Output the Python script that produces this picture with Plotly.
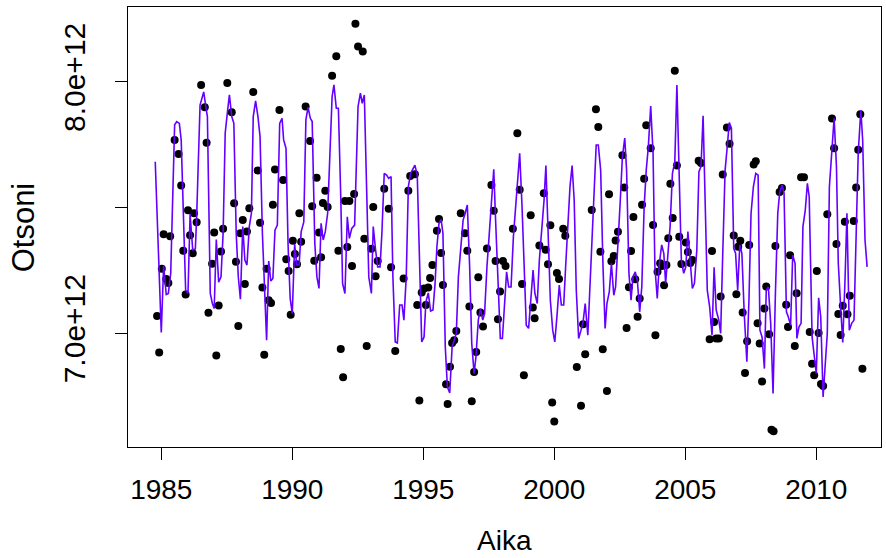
import plotly.graph_objects as go

obs_year = [1984.84, 1984.92, 1985.02, 1985.09, 1985.19, 1985.27, 1985.34, 1985.51, 1985.66, 1985.76,
            1985.84, 1985.93, 1986.02, 1986.10, 1986.20, 1986.25, 1986.35, 1986.52, 1986.66, 1986.73,
            1986.80, 1986.94, 1987.02, 1987.10, 1987.19, 1987.28, 1987.36, 1987.52, 1987.69, 1987.78,
            1987.85, 1987.94, 1988.02, 1988.11, 1988.19, 1988.27, 1988.36, 1988.51, 1988.68, 1988.77,
            1988.86, 1988.93, 1989.02, 1989.10, 1989.19, 1989.26, 1989.34, 1989.51, 1989.65, 1989.77,
            1989.86, 1989.94, 1990.02, 1990.10, 1990.18, 1990.27, 1990.34, 1990.51, 1990.68, 1990.76,
            1990.84, 1990.93, 1991.02, 1991.10, 1991.17, 1991.26, 1991.35, 1991.52, 1991.68, 1991.76,
            1991.85, 1991.94, 1992.01, 1992.10, 1992.18, 1992.28, 1992.36, 1992.41, 1992.51, 1992.69,
            1992.75, 1992.84, 1993.02, 1993.09, 1993.18, 1993.26, 1993.51, 1993.68, 1993.77, 1993.93,
            1994.25, 1994.43, 1994.50, 1994.68, 1994.77, 1994.85, 1994.94, 1995.03, 1995.10, 1995.19,
            1995.26, 1995.35, 1995.52, 1995.60, 1995.68, 1995.75, 1995.87, 1995.93, 1996.02, 1996.10,
            1996.18, 1996.26, 1996.43, 1996.59, 1996.68, 1996.76, 1996.85, 1996.94, 1997.02, 1997.10,
            1997.18, 1997.28, 1997.43, 1997.60, 1997.69, 1997.76, 1997.85, 1997.93, 1998.04, 1998.14,
            1998.42, 1998.59, 1998.68, 1998.77, 1998.84, 1999.10, 1999.18, 1999.25, 1999.43, 1999.60,
            1999.67, 1999.76, 1999.85, 1999.92, 2000.00, 2000.10, 2000.18, 2000.34, 2000.42, 2000.86,
            2001.02, 2001.10, 2001.18, 2001.43, 2001.59, 2001.68, 2001.76, 2001.85, 2002.01, 2002.09,
            2002.18, 2002.27, 2002.34, 2002.43, 2002.60, 2002.67, 2002.76, 2002.85, 2002.93, 2003.02,
            2003.09, 2003.18, 2003.26, 2003.35, 2003.43, 2003.51, 2003.68, 2003.77, 2003.86, 2003.94,
            2004.04, 2004.11, 2004.19, 2004.28, 2004.35, 2004.43, 2004.52, 2004.60, 2004.68, 2004.77,
            2004.85, 2005.02, 2005.10, 2005.19, 2005.27, 2005.51, 2005.60, 2005.93, 2006.02, 2006.10,
            2006.18, 2006.28, 2006.35, 2006.43, 2006.59, 2006.69, 2006.85, 2006.95, 2007.02, 2007.10,
            2007.19, 2007.28, 2007.36, 2007.44, 2007.61, 2007.69, 2007.76, 2007.84, 2007.93, 2008.02,
            2008.09, 2008.20, 2008.29, 2008.37, 2008.44, 2008.60, 2008.69, 2008.85, 2008.92, 2009.00,
            2009.18, 2009.25, 2009.42, 2009.53, 2009.75, 2009.84, 2009.92, 2010.02, 2010.09, 2010.18,
            2010.26, 2010.42, 2010.60, 2010.68, 2010.77, 2010.84, 2010.93, 2011.01, 2011.09, 2011.19,
            2011.28, 2011.43, 2011.52, 2011.60, 2011.68, 2011.76]

obs_value_e12 = [7.068, 6.923, 7.256, 7.394, 7.216, 7.200, 7.386, 7.769, 7.713, 7.588,
                 7.328, 7.154, 7.489, 7.390, 7.318, 7.477, 7.441, 7.988, 7.899, 7.758,
                 7.081, 7.276, 7.401, 6.911, 7.110, 7.325, 7.416, 7.996, 7.879, 7.517,
                 7.284, 7.029, 7.398, 7.450, 7.196, 7.405, 7.497, 7.960, 7.647, 7.439,
                 7.182, 6.914, 7.256, 7.131, 7.120, 7.511, 7.651, 7.888, 7.610, 7.294,
                 7.247, 7.073, 7.368, 7.315, 7.274, 7.477, 7.364, 7.902, 7.765, 7.505,
                 7.288, 7.618, 7.401, 7.302, 7.518, 7.567, 7.502, 8.024, 8.102, 7.328,
                 6.937, 6.825, 7.526, 7.343, 7.526, 7.267, 7.554, 8.231, 8.141, 8.121,
                 7.376, 6.949, 7.336, 7.502, 7.227, 7.287, 7.575, 7.495, 7.262, 6.929,
                 7.218, 7.567, 7.625, 7.632, 7.112, 6.732, 7.162, 7.178, 7.112, 7.182,
                 7.220, 7.271, 7.408, 7.454, 7.319, 7.192, 6.797, 6.718, 6.866, 6.961,
                 6.972, 7.009, 7.477, 7.398, 7.328, 7.106, 6.729, 6.845, 6.925, 7.223,
                 7.082, 7.027, 7.337, 7.590, 7.487, 7.287, 7.055, 7.166, 7.287, 7.267,
                 7.416, 7.796, 7.571, 7.196, 6.833, 7.469, 7.102, 7.059, 7.349, 7.557,
                 7.332, 7.274, 7.429, 6.724, 6.648, 7.239, 7.216, 7.416, 7.388, 6.865,
                 6.711, 7.035, 6.916, 7.490, 7.891, 7.820, 7.324, 6.936, 6.770, 7.553,
                 7.286, 7.307, 7.369, 7.404, 7.708, 7.580, 7.021, 7.183, 7.327, 7.462,
                 7.215, 7.065, 7.138, 7.511, 7.615, 7.827, 7.736, 7.430, 6.992, 7.244,
                 7.278, 7.267, 7.191, 7.271, 7.378, 7.595, 7.458, 8.044, 7.667, 7.384,
                 7.275, 7.361, 7.323, 7.279, 7.291, 7.686, 7.677, 6.976, 7.327, 7.044,
                 6.979, 6.979, 7.146, 7.631, 7.818, 7.754, 7.389, 7.155, 7.344, 7.368,
                 7.082, 6.841, 6.968, 7.351, 7.671, 7.684, 7.039, 6.959, 6.808, 7.098,
                 7.186, 6.996, 6.616, 6.610, 7.347, 7.562, 7.578, 7.113, 7.025, 7.310,
                 6.949, 7.159, 7.620, 7.620, 7.005, 6.878, 6.833, 7.247, 7.001, 6.798,
                 6.790, 7.473, 7.854, 7.736, 7.355, 7.076, 6.993, 7.109, 7.443, 7.075,
                 7.149, 7.446, 7.580, 7.730, 7.871, 6.858]

# Fitted curve (units of 1e12)
fit_year = [1984.77, 1985.00, 1985.09, 1985.19, 1985.27, 1985.36, 1985.51, 1985.59, 1985.69, 1985.76,
            1985.93, 1986.02, 1986.10, 1986.20, 1986.30, 1986.35, 1986.48, 1986.62, 1986.72, 1986.76,
            1986.87, 1986.95, 1987.02, 1987.10, 1987.19, 1987.28, 1987.36, 1987.44, 1987.52, 1987.60,
            1987.69, 1987.77, 1987.86, 1987.94, 1988.02, 1988.11, 1988.19, 1988.27, 1988.36, 1988.44,
            1988.51, 1988.60, 1988.69, 1988.77, 1988.86, 1989.02, 1989.10, 1989.18, 1989.26, 1989.34,
            1989.43, 1989.52, 1989.61, 1989.67, 1989.76, 1989.84, 1989.92, 1990.00, 1990.09, 1990.17,
            1990.26, 1990.34, 1990.44, 1990.52, 1990.60, 1990.69, 1990.76, 1990.86, 1990.94, 1991.02,
            1991.10, 1991.18, 1991.26, 1991.35, 1991.52, 1991.59, 1991.68, 1991.76, 1991.85, 1991.92,
            1992.01, 1992.10, 1992.18, 1992.27, 1992.38, 1992.45, 1992.51, 1992.60, 1992.67, 1992.75,
            1992.92, 1993.02, 1993.09, 1993.18, 1993.26, 1993.35, 1993.42, 1993.51, 1993.60, 1993.68,
            1993.77, 1993.84, 1993.93, 1994.01, 1994.10, 1994.19, 1994.26, 1994.35, 1994.43, 1994.52,
            1994.68, 1994.77, 1994.85, 1994.94, 1995.03, 1995.10, 1995.19, 1995.28, 1995.37, 1995.45,
            1995.52, 1995.60, 1995.68, 1995.75, 1995.84, 1995.92, 1996.01, 1996.10, 1996.18, 1996.26,
            1996.34, 1996.52, 1996.60, 1996.68, 1996.77, 1996.85, 1996.94, 1997.01, 1997.10, 1997.18,
            1997.27, 1997.34, 1997.43, 1997.52, 1997.60, 1997.69, 1997.76, 1997.85, 1997.94, 1998.02,
            1998.11, 1998.18, 1998.26, 1998.35, 1998.44, 1998.59, 1998.68, 1998.77, 1998.84, 1998.93,
            1999.02, 1999.10, 1999.19, 1999.26, 1999.35, 1999.43, 1999.52, 1999.61, 1999.68, 1999.77,
            1999.85, 1999.94, 2000.02, 2000.10, 2000.19, 2000.27, 2000.36, 2000.44, 2000.52, 2000.60,
            2000.68, 2000.76, 2000.84, 2000.93, 2001.02, 2001.10, 2001.18, 2001.28, 2001.35, 2001.44,
            2001.53, 2001.60, 2001.68, 2001.77, 2001.86, 2001.94, 2002.01, 2002.10, 2002.18, 2002.27,
            2002.34, 2002.43, 2002.52, 2002.60, 2002.69, 2002.76, 2002.85, 2002.93, 2003.00, 2003.09,
            2003.17, 2003.26, 2003.34, 2003.43, 2003.51, 2003.59, 2003.68, 2003.77, 2003.84, 2003.93,
            2004.01, 2004.10, 2004.18, 2004.25, 2004.33, 2004.42, 2004.51, 2004.60, 2004.68, 2004.77,
            2004.85, 2004.94, 2005.02, 2005.10, 2005.18, 2005.27, 2005.35, 2005.44, 2005.52, 2005.60,
            2005.68, 2005.76, 2005.84, 2005.93, 2006.02, 2006.10, 2006.18, 2006.28, 2006.35, 2006.43,
            2006.52, 2006.59, 2006.68, 2006.76, 2006.85, 2006.92, 2007.00, 2007.08, 2007.16, 2007.25,
            2007.35, 2007.43, 2007.51, 2007.60, 2007.69, 2007.78, 2007.85, 2007.93, 2008.02, 2008.09,
            2008.17, 2008.26, 2008.35, 2008.44, 2008.53, 2008.60, 2008.69, 2008.77, 2008.86, 2008.93,
            2009.02, 2009.10, 2009.19, 2009.26, 2009.34, 2009.42, 2009.49, 2009.58, 2009.66, 2009.73,
            2009.84, 2009.92, 2010.00, 2010.09, 2010.17, 2010.26, 2010.35, 2010.42, 2010.50, 2010.59,
            2010.68, 2010.77, 2010.84, 2010.93, 2011.01, 2011.10, 2011.17, 2011.26, 2011.35, 2011.44,
            2011.53, 2011.60, 2011.70, 2011.77, 2011.86, 2011.94]

fit_value_e12 = [7.682, 7.003, 7.268, 7.154, 7.158, 7.238, 7.829, 7.842, 7.835, 7.769,
                 7.171, 7.159, 7.474, 7.331, 7.335, 7.462, 7.908, 7.960, 7.888, 7.862,
                 7.158, 7.118, 7.098, 7.373, 7.203, 7.224, 7.397, 7.796, 7.875, 7.948,
                 7.862, 7.835, 7.397, 7.224, 7.135, 7.424, 7.291, 7.271, 7.424, 7.477,
                 7.862, 7.924, 7.862, 7.782, 7.397, 6.972, 7.287, 7.208, 7.218, 7.410,
                 7.430, 7.835, 7.855, 7.769, 7.736, 7.351, 7.138, 7.078, 7.355, 7.271,
                 7.271, 7.404, 7.443, 7.849, 7.899, 7.855, 7.842, 7.357, 7.224, 7.178,
                 7.437, 7.371, 7.404, 7.477, 7.941, 7.988, 7.895, 7.895, 7.543, 7.198,
                 7.158, 7.463, 7.377, 7.417, 7.430, 7.649, 7.902, 7.955, 7.915, 7.948,
                 7.224, 7.158, 7.424, 7.331, 7.264, 7.264, 7.397, 7.636, 7.629, 7.616,
                 7.623, 7.224, 6.965, 6.961, 7.112, 7.112, 7.052, 7.224, 7.583, 7.636,
                 7.669, 7.629, 7.278, 6.965, 6.985, 7.125, 7.160, 7.088, 7.092, 7.198,
                 7.344, 7.437, 7.453, 7.397, 6.945, 6.786, 6.762, 6.945, 6.972, 6.999,
                 7.224, 7.450, 7.477, 7.510, 7.264, 6.959, 6.839, 6.906, 7.052, 7.098,
                 7.052, 7.078, 7.264, 7.397, 7.530, 7.652, 7.450, 7.198, 6.979, 6.979,
                 7.158, 7.244, 7.184, 7.184, 7.384, 7.610, 7.716, 7.503, 7.264, 7.032,
                 7.019, 7.131, 7.251, 7.158, 7.118, 7.291, 7.397, 7.530, 7.667, 7.344,
                 7.131, 7.012, 6.965, 7.065, 7.191, 7.112, 7.112, 7.278, 7.424, 7.583,
                 7.667, 7.530, 7.171, 6.979, 7.012, 7.045, 7.118, 6.992, 7.158, 7.397,
                 7.596, 7.749, 7.749, 7.649, 7.264, 7.019, 7.118, 7.165, 7.278, 7.151,
                 7.184, 7.344, 7.530, 7.702, 7.776, 7.649, 7.238, 7.131, 7.224, 7.244,
                 7.211, 7.085, 7.184, 7.503, 7.649, 7.742, 7.904, 7.716, 7.264, 7.138,
                 7.278, 7.351, 7.318, 7.198, 7.318, 7.424, 7.636, 7.682, 7.988, 7.583,
                 7.291, 7.238, 7.264, 7.404, 7.278, 7.178, 7.198, 7.331, 7.643, 7.663,
                 7.865, 7.530, 7.171, 7.105, 6.992, 7.262, 7.092, 7.052, 6.999, 7.318,
                 7.649, 7.729, 7.838, 7.816, 7.337, 7.318, 7.171, 7.351, 7.318, 7.078,
                 6.886, 7.131, 7.477, 7.583, 7.636, 7.629, 7.012, 6.985, 6.859, 7.171,
                 7.184, 7.039, 6.760, 7.158, 7.477, 7.557, 7.590, 7.557, 7.085, 7.065,
                 7.032, 7.311, 7.278, 6.979, 7.025, 7.039, 7.424, 7.490, 7.596, 7.543,
                 6.985, 6.912, 6.839, 7.141, 7.065, 6.746, 6.899, 6.999, 7.583, 7.742,
                 7.855, 7.663, 7.278, 7.105, 6.963, 7.224, 7.477, 7.012, 7.039, 7.052,
                 7.397, 7.716, 7.888, 7.769, 7.371, 7.264]

x_tick_vals = [1985, 1990, 1995, 2000, 2005, 2010]
y_tick_vals_e12 = [7.0, 7.5, 8.0]
y_tick_text = ["7.0e+12", "", "8.0e+12"]

assert len(obs_year) == len(obs_value_e12)
assert len(fit_year) == len(fit_value_e12)

E12 = 1e12
obs_value = [v * E12 for v in obs_value_e12]
fit_value = [v * E12 for v in fit_value_e12]
y_tick_vals = [v * E12 for v in y_tick_vals_e12]

FONT = "Liberation Sans, Arial, Helvetica, sans-serif"

fig = go.Figure()
fig.add_trace(go.Scatter(
    x=obs_year, y=obs_value, mode="markers",
    marker=dict(color="black", size=8, line=dict(width=0)),
    showlegend=False, cliponaxis=False,
))
fig.add_trace(go.Scatter(
    x=fit_year, y=fit_value, mode="lines",
    line=dict(color="#6400FF", width=1.6),
    showlegend=False,
))

fig.update_layout(
    width=886, height=558,
    margin=dict(l=128, r=5, t=7, b=111),
    paper_bgcolor="white", plot_bgcolor="white",
    font=dict(family=FONT, color="black"),
    showlegend=False,
    xaxis=dict(
        range=[1983.73, 2012.47],
        tickmode="array", tickvals=x_tick_vals,
        ticks="outside", ticklen=12, tickwidth=1, tickcolor="black",
        ticklabelstandoff=5,
        tickfont=dict(size=28, family=FONT),
        showline=True, linecolor="black", linewidth=1, mirror=True,
        showgrid=False, zeroline=False,
    ),
    yaxis=dict(
        range=[6.547 * E12, 8.298 * E12],
        tickmode="array", tickvals=y_tick_vals, ticktext=y_tick_text,
        tickangle=-90,
        ticks="outside", ticklen=12, tickwidth=1, tickcolor="black",
        ticklabelstandoff=18,
        tickfont=dict(size=30, family=FONT),
        showline=True, linecolor="black", linewidth=1, mirror=True,
        showgrid=False, zeroline=False,
    ),
    annotations=[
        dict(text="Aika", xref="paper", yref="paper", x=0.5, y=-0.212,
             xanchor="center", yanchor="middle", showarrow=False,
             font=dict(size=28, family=FONT)),
        dict(text="Otsoni", xref="paper", yref="paper", x=-0.139, y=0.5,
             xanchor="center", yanchor="middle", showarrow=False, textangle=-90,
             font=dict(size=31, family=FONT)),
    ],
)

fig.write_html("out.html")
